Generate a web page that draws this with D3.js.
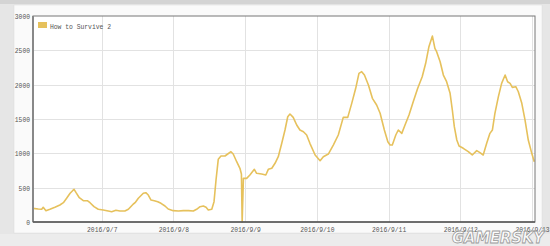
<!DOCTYPE html>
<html>
<head>
<meta charset="utf-8">
<script src="https://cdn.jsdelivr.net/npm/d3@7"></script>
<style>
  html, body { margin: 0; padding: 0; background: #e5e5e5; }
  svg { display: block; }
</style>
</head>
<body>
<svg id="chart" width="550" height="246"></svg>
<script>
const seriesName = "How to Survive 2";
const times = [
  "2016-09-06 01:00","2016-09-06 02:45","2016-09-06 03:55","2016-09-06 04:25","2016-09-06 05:20",
  "2016-09-06 06:40","2016-09-06 08:20","2016-09-06 10:00","2016-09-06 11:10","2016-09-06 12:15",
  "2016-09-06 13:25","2016-09-06 14:15","2016-09-06 14:45","2016-09-06 15:25","2016-09-06 16:30",
  "2016-09-06 17:50","2016-09-06 19:10","2016-09-06 20:05","2016-09-06 21:25","2016-09-06 22:50",
  "2016-09-07 00:30","2016-09-07 02:10","2016-09-07 03:20","2016-09-07 04:45","2016-09-07 06:05",
  "2016-09-07 07:45","2016-09-07 08:55","2016-09-07 10:35","2016-09-07 11:10","2016-09-07 12:15",
  "2016-09-07 13:55","2016-09-07 14:45","2016-09-07 15:35","2016-09-07 16:30","2016-09-07 17:35",
  "2016-09-07 18:45","2016-09-07 19:50","2016-09-07 21:10","2016-09-07 22:15","2016-09-07 23:55",
  "2016-09-08 01:40","2016-09-08 03:20","2016-09-08 05:00","2016-09-08 06:40","2016-09-08 07:45",
  "2016-09-08 08:55","2016-09-08 10:00","2016-09-08 10:55","2016-09-08 11:40","2016-09-08 12:50",
  "2016-09-08 13:35","2016-09-08 14:15","2016-09-08 15:00","2016-09-08 15:55","2016-09-08 17:15",
  "2016-09-08 18:10","2016-09-08 19:15","2016-09-08 20:00","2016-09-08 21:10","2016-09-08 22:15",
  "2016-09-08 22:45","2016-09-08 23:00","2016-09-08 23:25","2016-09-09 00:30","2016-09-09 01:35",
  "2016-09-09 03:05","2016-09-09 03:50","2016-09-09 05:30","2016-09-09 06:55","2016-09-09 07:45",
  "2016-09-09 08:55","2016-09-09 10:00","2016-09-09 11:05","2016-09-09 12:15","2016-09-09 13:20",
  "2016-09-09 14:15","2016-09-09 15:00","2016-09-09 16:05","2016-09-09 17:15","2016-09-09 18:20",
  "2016-09-09 19:30","2016-09-09 20:35","2016-09-09 21:40","2016-09-09 23:25","2016-09-10 01:05",
  "2016-09-10 02:10","2016-09-10 03:50","2016-09-10 05:30","2016-09-10 07:10","2016-09-10 08:50",
  "2016-09-10 10:20","2016-09-10 11:40","2016-09-10 13:00","2016-09-10 14:05","2016-09-10 15:00",
  "2016-09-10 15:55","2016-09-10 17:15","2016-09-10 18:35","2016-09-10 20:00","2016-09-10 21:10",
  "2016-09-10 22:35","2016-09-10 23:45","2016-09-11 00:30","2016-09-11 01:15","2016-09-11 02:25",
  "2016-09-11 03:15","2016-09-11 04:25","2016-09-11 05:30","2016-09-11 06:50","2016-09-11 08:15",
  "2016-09-11 09:45","2016-09-11 11:15","2016-09-11 12:25","2016-09-11 13:30","2016-09-11 14:40",
  "2016-09-11 15:30","2016-09-11 16:05","2016-09-11 17:15","2016-09-11 18:20","2016-09-11 19:25",
  "2016-09-11 20:35","2016-09-11 21:20","2016-09-11 22:00","2016-09-11 22:50","2016-09-11 23:35",
  "2016-09-12 01:00","2016-09-12 02:40","2016-09-12 04:00","2016-09-12 05:30","2016-09-12 06:35",
  "2016-09-12 07:40","2016-09-12 08:50","2016-09-12 09:55","2016-09-12 10:45","2016-09-12 11:35",
  "2016-09-12 12:45","2016-09-12 13:50","2016-09-12 15:00","2016-09-12 15:50","2016-09-12 16:40",
  "2016-09-12 17:25","2016-09-12 18:35","2016-09-12 19:25","2016-09-12 20:35","2016-09-12 21:40",
  "2016-09-12 22:45","2016-09-12 23:55","2016-09-13 00:45"
];
const values = [
  199,189,185,214,165,
  185,214,247,281,345,
  418,456,476,427,354,
  310,310,281,223,185,
  175,160,150,170,160,
  160,185,262,281,345,
  418,427,393,320,310,
  296,272,233,189,165,
  160,165,165,160,185,
  223,233,214,175,185,
  296,612,913,961,961,
  990,1024,990,878,782,
  700,0,636,636,684,
  767,709,699,684,767,
  782,855,951,1146,1340,
  1533,1572,1524,1412,1340,
  1315,1267,1146,976,893,
  951,990,1121,1267,1524,
  1524,1728,1947,2165,2189,
  2140,1995,1801,1704,1583,
  1340,1169,1121,1121,1267,
  1340,1291,1412,1558,1752,
  1947,2116,2311,2553,2708,
  2529,2480,2334,2140,2043,
  1874,1631,1388,1194,1107,
  1073,1024,976,1039,1010,
  976,1146,1291,1340,1583,
  1825,2019,2140,2043,2019,
  1961,1970,1897,1728,1485,
  1194,1000,878
];
const xTickDates = ["2016-09-07","2016-09-08","2016-09-09","2016-09-10","2016-09-11","2016-09-12","2016-09-13"];
const xTickLabels = ["2016/9/7","2016/9/8","2016/9/9","2016/9/10","2016/9/11","2016/9/12","2016/9/13"];
const yTicks = [0,500,1000,1500,2000,2500,3000];
const xDomain = ["2016-09-06 01:00","2016-09-13 01:00"];

const parseT = d3.timeParse("%Y-%m-%d %H:%M");
const parseD = d3.timeParse("%Y-%m-%d");
const data = times.map((t, i) => ({ t: parseT(t), v: values[i] }));

const svg = d3.select("#chart");
const W = 550, H = 246;
const m = { left: 33, right: 15, top: 16, bottom: 24 };

// background
svg.append("rect").attr("width", W).attr("height", H).attr("fill", "#e6e6e6");
svg.append("rect").attr("width", W).attr("height", 4).attr("fill", "#d4d4d4");
svg.append("rect").attr("x", 14).attr("y", 5).attr("width", 528).attr("height", 228)
  .attr("fill", "#fafafa").attr("stroke", "#dcdcdc").attr("stroke-width", 0.5);
svg.append("rect").attr("x", 0).attr("y", 234).attr("width", W).attr("height", 12).attr("fill", "#ececec");

const x = d3.scaleTime().domain(xDomain.map(parseT)).range([m.left, W - m.right]);
const y = d3.scaleLinear().domain([0, 3000]).range([H - m.bottom, m.top]);

// plot background
svg.append("rect").attr("x", m.left).attr("y", m.top)
  .attr("width", W - m.right - m.left).attr("height", H - m.bottom - m.top).attr("fill", "#fff");

// grid
const grid = svg.append("g");
grid.selectAll("line.h").data(yTicks.slice(1, -1)).join("line")
  .attr("x1", m.left).attr("x2", W - m.right)
  .attr("y1", d => Math.round(y(d)) + 0.5).attr("y2", d => Math.round(y(d)) + 0.5)
  .attr("stroke", "#e2e2e2").attr("stroke-width", 1);
grid.selectAll("line.v").data(xTickDates.map(parseD)).join("line")
  .attr("x1", d => Math.round(x(d)) + 0.5).attr("x2", d => Math.round(x(d)) + 0.5)
  .attr("y1", m.top).attr("y2", H - m.bottom)
  .attr("stroke", "#e2e2e2").attr("stroke-width", 1);

// line
const line = d3.line().x(d => x(d.t)).y(d => y(d.v));
svg.append("path").datum(data).attr("d", line)
  .attr("fill", "none").attr("stroke", "#e6c15c").attr("stroke-width", 1.6)
  .attr("stroke-linejoin", "round");

// frame
svg.append("rect").attr("x", m.left).attr("y", m.top)
  .attr("width", W - m.right - m.left).attr("height", H - m.bottom - m.top)
  .attr("fill", "none").attr("stroke", "#777").attr("stroke-width", 1);
svg.append("line").attr("x1", m.left).attr("x2", m.left).attr("y1", m.top).attr("y2", H - m.bottom)
  .attr("stroke", "#888").attr("stroke-width", 2);
svg.append("line").attr("x1", m.left).attr("x2", W - m.right).attr("y1", H - m.bottom).attr("y2", H - m.bottom)
  .attr("stroke", "#555").attr("stroke-width", 1.5);

// axes
const xAxis = d3.axisBottom(x).tickValues(xTickDates.map(parseD))
  .tickFormat((d, i) => xTickLabels[i]).tickSize(0).tickPadding(5);
const gx = svg.append("g").attr("transform", `translate(0,${H - m.bottom})`).call(xAxis);
gx.select(".domain").remove();
gx.selectAll("text").attr("font-family", "'Liberation Mono', monospace").attr("font-size", 7.5)
  .attr("fill", "#555").attr("textLength", function() { return this.textContent.length * 3.8; })
  .attr("lengthAdjust", "spacingAndGlyphs");

const yAxis = d3.axisLeft(y).tickValues(yTicks).tickFormat(d3.format("d")).tickSize(0).tickPadding(3);
const gy = svg.append("g").attr("transform", `translate(${m.left},0)`).call(yAxis);
gy.select(".domain").remove();
gy.selectAll("text").attr("font-family", "'Liberation Mono', monospace").attr("font-size", 7.5)
  .attr("fill", "#555").attr("textLength", function() { return this.textContent.length * 3.8; })
  .attr("lengthAdjust", "spacingAndGlyphs");

// legend
svg.append("rect").attr("x", 38).attr("y", 22).attr("width", 9).attr("height", 6).attr("fill", "#e6c15c");
svg.append("text").attr("x", 50).attr("y", 28.5).text(seriesName)
  .attr("font-family", "'Liberation Mono', monospace").attr("font-size", 7.5).attr("fill", "#555")
  .attr("textLength", 61).attr("lengthAdjust", "spacingAndGlyphs");

// watermark
svg.append("text").attr("x", 452).attr("y", 243).text("GAMERSKY")
  .attr("font-family", "'DejaVu Sans', sans-serif").attr("font-weight", "bold").attr("font-style", "italic")
  .attr("font-size", 15).attr("textLength", 92).attr("lengthAdjust", "spacingAndGlyphs")
  .attr("fill", "#ffffff").attr("fill-opacity", 0.85).attr("stroke", "#9a9a9a").attr("stroke-width", 0.8);
</script>
</body>
</html>
